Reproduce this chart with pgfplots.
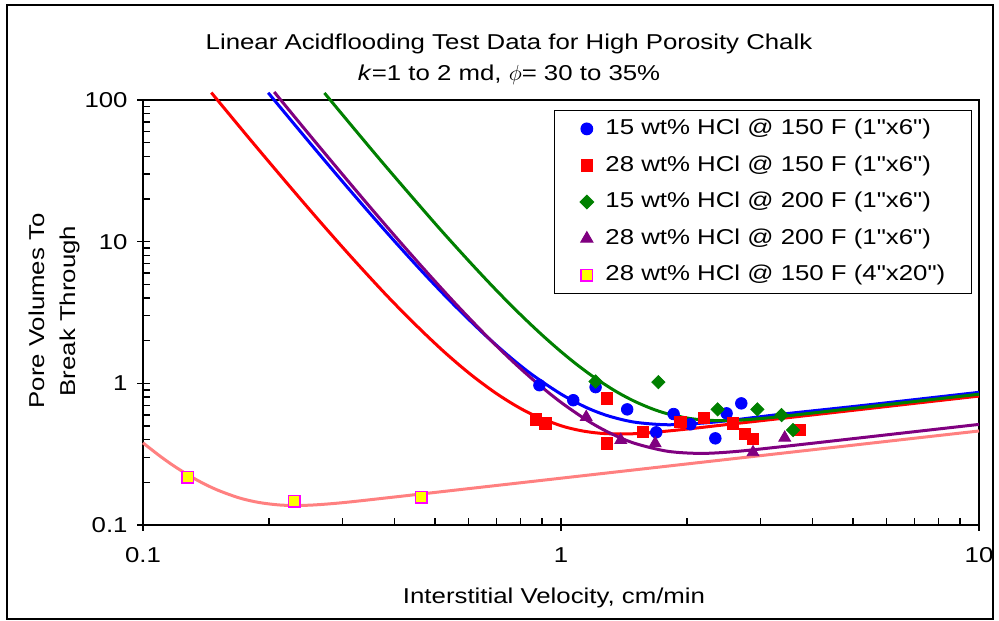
\documentclass[border=0pt]{standalone}
\usepackage{fontspec}
\setmainfont{Liberation Sans}[FakeStretch=1.2, Ligatures=TeXOff]
\usepackage{pgfplots}
\pgfplotsset{compat=1.18}
\definecolor{cblue}{RGB}{0,0,255}
\definecolor{cred}{RGB}{255,0,0}
\definecolor{cgreen}{RGB}{0,128,0}
\definecolor{cpurple}{RGB}{128,0,128}
\definecolor{cpink}{RGB}{255,128,128}
\definecolor{cmag}{RGB}{255,0,255}
\definecolor{cyel}{RGB}{255,255,0}
\newcommand{\chartfont}{\fontsize{10.75bp}{13bp}\selectfont}
\begin{document}
\begin{tikzpicture}
\begin{axis}[
  scale only axis, width=418bp, height=212.5bp,
  xmode=log, ymode=log,
  xmin=0.1, xmax=10, ymin=0.1, ymax=100,
  clip=false,
  axis line style={line width=0.9bp},
  xtick={0.1,1,10}, xticklabels={0.1,1,10},
  ytick={0.1,1,10,100}, yticklabels={0.1,1,10,100},
  tick pos=left,
  tick align=inside,
  major tick length=3.5bp, minor tick length=3.5bp,
  tick style={line width=0.75bp, black},
  extra x ticks={0.1,1,10}, extra x tick labels={,,},
  extra y ticks={0.1,1,10,100}, extra y tick labels={,,,},
  extra tick style={tick align=outside, major tick length=3bp},
  /pgf/number format/assume math mode=true,
  every tick label/.append style={font=\chartfont},
  xticklabel style={inner sep=0pt, yshift=-11bp},
  yticklabel style={inner sep=0pt, xshift=-7.5bp},
  legend style={at={(0.9916,0.9765)}, anchor=north east, draw=black,
    line width=0.6bp, fill=white, inner xsep=13bp, inner ysep=4bp,
    row sep=8bp, font=\chartfont,
    nodes={inner sep=0pt, text height=8bp, text depth=2.3bp},
    /tikz/every odd column/.append style={column sep=6bp}},
  legend cell align=left,
  legend image code/.code={\draw[#1] plot coordinates {(0bp,0bp)};},
]
% fitted curves
\addplot[cblue, line width=1.5bp, smooth, forget plot] coordinates {
(0.1993,112.5) (0.25,50.3) (0.30,26.6) (0.35,15.7) (0.40,10.05) (0.469,6.0)
(0.55,3.67) (0.65,2.27) (0.75,1.56) (0.85,1.16) (1.0,0.84) (1.15,0.675)
(1.3,0.588) (1.5,0.532) (1.8,0.51) (2.2,0.525) (2.6,0.552) (3.36,0.605)
(5,0.686) (7,0.767) (10,0.864)};
\addplot[cred, line width=1.5bp, smooth, forget plot] coordinates {
(0.1457,112.8) (0.18,53.1) (0.22,26.3) (0.26,14.8) (0.30,9.15) (0.338,6.2)
(0.38,4.27) (0.42,3.15) (0.47,2.27) (0.524,1.68) (0.58,1.295) (0.63,1.065)
(0.70,0.849) (0.78,0.694) (0.861,0.596) (1.0,0.502) (1.12,0.4625) (1.243,0.444)
(1.4,0.439) (1.6,0.446) (2.0,0.4755) (2.6,0.519) (3.36,0.565) (5,0.645)
(7,0.722) (10,0.813)};
\addplot[cgreen, line width=1.5bp, smooth, forget plot] coordinates {
(0.2717,112.1) (0.32,62.7) (0.37,37.6) (0.43,22.4) (0.514,12.23) (0.60,7.38)
(0.68,4.97) (0.757,3.59) (0.83,2.752) (0.909,2.143) (1.0,1.674) (1.093,1.352)
(1.2,1.103) (1.35,0.881) (1.494,0.7506) (1.65,0.662) (1.797,0.610) (2.04,0.564)
(2.3,0.547) (2.59,0.547) (3.0,0.564) (3.36,0.583) (5,0.665) (7,0.744) (10,0.838)};
\addplot[cpurple, line width=1.5bp, smooth, forget plot] coordinates {
(0.206,113.9) (0.25,56.9) (0.30,29.86) (0.35,17.43) (0.41,10.13) (0.478,6.07)
(0.56,3.637) (0.666,2.136) (0.77,1.41) (0.877,1.0015) (1.0,0.734) (1.155,0.548)
(1.3,0.4506) (1.494,0.3788) (1.797,0.3317) (2.16,0.3202) (2.6,0.3296)
(3.36,0.3567) (5,0.407) (7,0.4555) (10,0.513)};
\addplot[cpink, line width=1.5bp, smooth, forget plot] coordinates {
(0.1,0.38) (0.11,0.3054) (0.12,0.255) (0.135,0.2067) (0.15,0.1776) (0.17,0.1553)
(0.19,0.144) (0.216,0.138) (0.25,0.138) (0.30,0.1437) (0.40,0.1577) (0.6,0.1805)
(1.0,0.214) (2,0.2697) (4,0.3398) (7,0.4095) (10,0.461)};
% measured data
\addplot[only marks, mark=*, mark size=2.9bp, mark options={fill=cblue, draw=cblue}] coordinates {
(0.888,0.97) (1.07,0.76) (1.21,0.94) (1.44,0.655) (1.69,0.451) (1.86,0.607)
(2.04,0.514) (2.34,0.409) (2.49,0.614) (2.70,0.722)};
\addlegendentry{15 wt\% HCl @ 150 F (1"x6")}
\addplot[only marks, mark=square*, mark size=2.8bp, mark options={fill=cred, draw=cred}] coordinates {
(0.869,0.557) (0.918,0.522) (1.29,0.784) (1.29,0.377) (1.57,0.455) (1.93,0.536)
(2.20,0.572) (2.58,0.522) (2.75,0.437) (2.88,0.405) (3.73,0.468)};
\addlegendentry{28 wt\% HCl @ 150 F (1"x6")}
\addplot[only marks, mark=square*, mark size=2.35bp, mark options={fill=cgreen, draw=cgreen, rotate=45}] coordinates {
(1.21,1.03) (1.71,1.02) (2.37,0.655) (2.95,0.655) (3.37,0.597) (3.59,0.468)};
\addlegendentry{15 wt\% HCl @ 200 F (1"x6")}
\addplot[only marks, mark=triangle*, mark size=3.4bp, mark options={fill=cpurple, draw=cpurple}] coordinates {
(1.149,0.578) (1.39,0.398) (1.68,0.377) (2.88,0.326) (3.43,0.413)};
\addlegendentry{28 wt\% HCl @ 200 F (1"x6")}
\addplot[only marks, mark=square*, mark size=2.9bp, mark options={fill=cyel, draw=cmag, line width=0.7bp}] coordinates {
(0.128,0.217) (0.230,0.147) (0.4625,0.1576)};
\addlegendentry{28 wt\% HCl @ 150 F (4"x20")}
\end{axis}
% titles and labels
\node[anchor=base, font=\chartfont] at (183bp,237.5bp) {Linear Acidflooding Test Data for High Porosity Chalk};
\node[anchor=base, font=\chartfont] at (183bp,222.2bp) {\textit{k}=1 to 2 md, $\phi$= 30 to 35\%};
\node[anchor=base, font=\chartfont] at (205.5bp,-39bp) {Interstitial Velocity, cm/min};
\node[rotate=90, align=center, font=\chartfont, inner sep=0pt] at (-44.5bp,107bp) {Pore Volumes To\\[2.5bp]Break Through};
\draw[line width=1bp] (-68bp,-47bp) rectangle (425bp,260bp);
\pgfresetboundingbox
\useasboundingbox (-71.5bp,-48bp) rectangle (428bp,262.5bp);
\end{tikzpicture}
\end{document}
